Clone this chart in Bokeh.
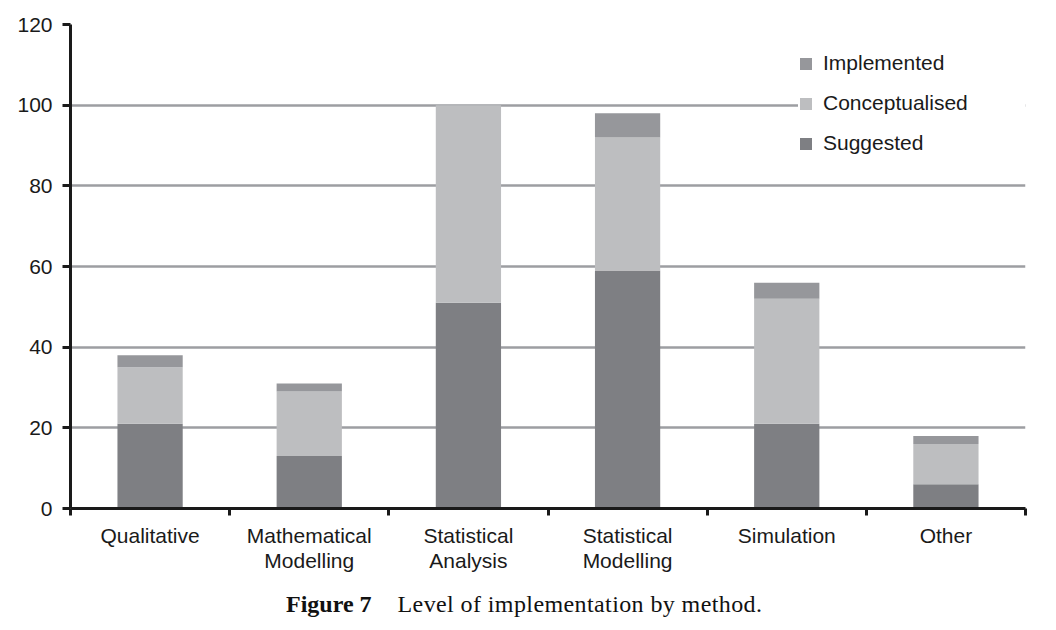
from bokeh.plotting import figure
from bokeh.models import (Range1d, FixedTicker, Legend, LegendItem, ColumnDataSource, Div)
from bokeh.layouts import column
from bokeh.embed import file_html
from bokeh.resources import INLINE

categories = ["Qualitative", "Mathematical\nModelling", "Statistical\nAnalysis",
              "Statistical\nModelling", "Simulation", "Other"]
suggested = [21, 13, 51, 59, 21, 6]
conceptualised = [14, 16, 49, 33, 31, 10]
implemented = [3, 2, 0, 6, 4, 2]
y_ticks = [0, 20, 40, 60, 80, 100, 120]

colors = {"Suggested": "#7e7f83", "Conceptualised": "#bdbec0", "Implemented": "#96979b"}

centers = [i + 0.5 for i in range(len(categories))]
src = ColumnDataSource(dict(x=centers, Suggested=suggested,
                            Conceptualised=conceptualised, Implemented=implemented))

p = figure(width=1048, height=584, output_backend="svg", toolbar_location=None,
           x_range=Range1d(0, len(categories)), y_range=Range1d(0, 120),
           min_border_left=70, min_border_top=24, min_border_right=23, min_border_bottom=76)
p.outline_line_color = None
p.background_fill_color = "white"

stack = ["Suggested", "Conceptualised", "Implemented"]
rs = p.vbar_stack(stack, x="x", width=0.41, source=src,
                  color=[colors[s] for s in stack], line_color=None)

FONT = "Liberation Sans"
FS = "21px"

p.xgrid.grid_line_color = None
p.ygrid.grid_line_color = "#9d9ea2"
p.ygrid.grid_line_width = 2.5
p.ygrid.ticker = FixedTicker(ticks=y_ticks)

p.yaxis.ticker = FixedTicker(ticks=y_ticks)
p.yaxis.axis_line_color = "#1a1a1a"
p.yaxis.axis_line_width = 3
p.yaxis.major_tick_line_width = 3
p.yaxis.major_tick_line_color = "#1a1a1a"
p.yaxis.major_tick_out = 8
p.yaxis.major_tick_in = 0
p.yaxis.minor_tick_line_color = None
p.yaxis.major_label_standoff = 10
p.yaxis.major_label_text_font = FONT
p.yaxis.major_label_text_font_size = FS
p.yaxis.major_label_text_color = "#1a1a1a"

p.xaxis.ticker = FixedTicker(ticks=centers, minor_ticks=list(range(len(categories) + 1)))
p.xaxis.major_label_overrides = {c: lab for c, lab in zip(centers, categories)}
p.xaxis.axis_line_color = "#1a1a1a"
p.xaxis.axis_line_width = 3
p.xaxis.major_tick_line_color = None
p.xaxis.major_tick_out = 0
p.xaxis.major_tick_in = 0
p.xaxis.minor_tick_line_color = "#1a1a1a"
p.xaxis.minor_tick_line_width = 3
p.xaxis.minor_tick_out = 7
p.xaxis.minor_tick_in = 0
p.xaxis.major_label_standoff = 8
p.xaxis.major_label_text_font = FONT
p.xaxis.major_label_text_font_size = FS
p.xaxis.major_label_text_color = "#1a1a1a"
p.xaxis.major_label_text_line_height = 1.1

rmap = dict(zip(stack, rs))
legend = Legend(items=[LegendItem(label=s, renderers=[rmap[s]]) for s in ["Implemented", "Conceptualised", "Suggested"]],
                location=(728, 353), padding=10, spacing=16, glyph_width=15, glyph_height=15,
                label_height=24, label_width=235, label_standoff=10,
                label_text_font=FONT, label_text_font_size=FS,
                label_text_color="#1a1a1a", border_line_color=None,
                background_fill_color="white", background_fill_alpha=1.0)
p.add_layout(legend)

caption = Div(text='<span style="font-weight:bold">Figure 7</span>'
                   '<span style="display:inline-block;width:26px"></span>'
                   '<span style="letter-spacing:0.4px">Level of implementation by method.</span>',
              width=900, height=34,
              styles={"padding-left": "281px", "font-family": "'Liberation Serif'",
                      "font-size": "24px", "line-height": "30px", "color": "#111111"})

open("out.html", "w").write(file_html(column(p, caption, spacing=0), INLINE))
